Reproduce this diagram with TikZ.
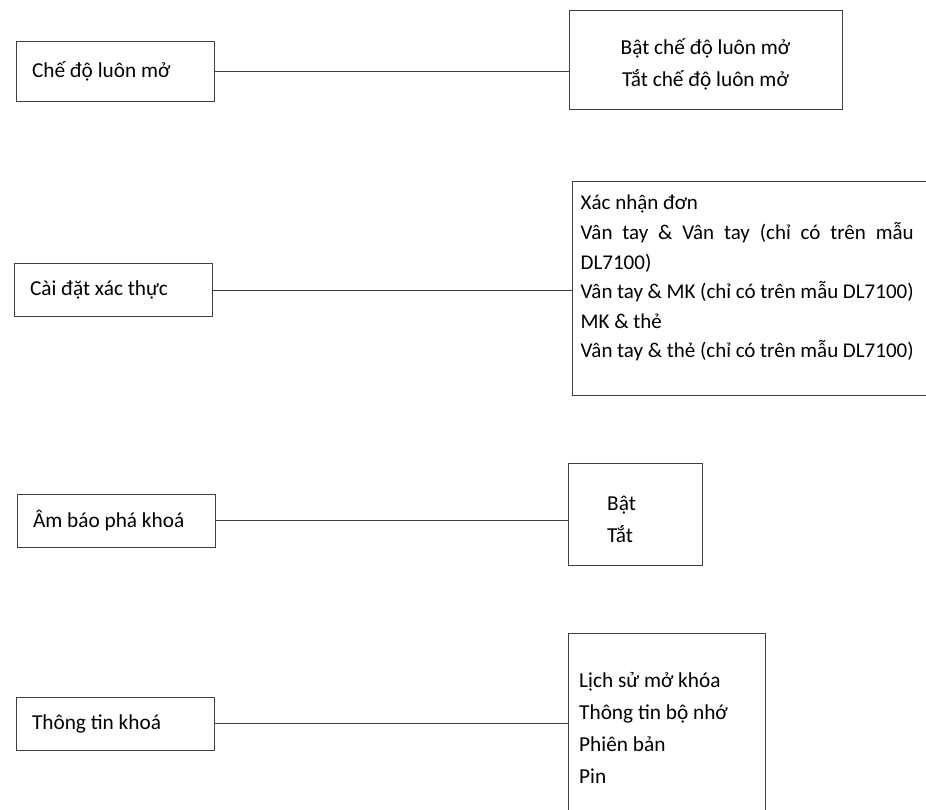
\documentclass[tikz,border=0pt]{standalone}
\usepackage{fontspec}
\setmainfont{Carlito}

\begin{document}
\begin{tikzpicture}[x=1pt,y=-1pt,
    menubox/.style={draw=black!75,line width=0.9pt,text width=166pt,inner xsep=16pt,align=flush left,minimum height=53pt,font=\fontsize{21.3}{25}\selectfont},
    optbox/.style={draw=black!75,line width=0.9pt},
    opttext/.style={inner sep=0pt,anchor=base west,align=flush left}]
            \path[use as bounding box,clip] (0,0) rectangle (926,810);

            \node (mode) at (115,71) [menubox,minimum height=60pt] {Chế độ luôn mở};
            \node (auth) at (113,290) [menubox] {Cài đặt xác thực};
            \node (alarm) at (116,520.5) [menubox] {Âm báo phá khoá};
            \node (info) at (115,723.5) [menubox] {Thông tin khoá};

            \node (modebox) at (705.5,59.5) [optbox,minimum width=273pt,minimum height=99pt] {};
            \node (authbox) at (772,288) [optbox,minimum width=400pt,minimum height=214pt] {};
            \node (alarmbox) at (635,514) [optbox,minimum width=134pt,minimum height=102pt] {};
            \node (infobox) at (666.5,758) [optbox,minimum width=197pt,minimum height=250pt] {};

            \node (modetext) at (705.5,55) [opttext,anchor=base,text width=273pt,align=flush center,font=\fontsize{21.3}{32}\selectfont] {Bật chế độ luôn mở\\Tắt chế độ luôn mở};
            \node (authtext) at (580.5,210) [opttext,text width=333pt,align=justify,font=\fontsize{21}{29.6}\selectfont] {Xác nhận đơn\\Vân tay \& Vân tay (chỉ có trên mẫu\linebreak DL7100)\\Vân tay \& MK (chỉ có trên mẫu DL7100)\\MK \& thẻ\\Vân tay \& thẻ (chỉ có trên mẫu DL7100)};
            \node (alarmtext) at (607,510) [opttext,text width=80pt,font=\fontsize{21.3}{32.7}\selectfont] {Bật\\Tắt};
            \node (infotext) at (579,687) [opttext,text width=180pt,font=\fontsize{21.3}{32.3}\selectfont] {Lịch sử mở khóa\\Thông tin bộ nhớ\\Phiên bản\\Pin};

            \draw[black!75,line width=0.9pt] (mode.east) -- (mode.east -| modebox.west) (auth.east) -- (auth.east -| authbox.west) (alarm.east) -- (alarm.east -| alarmbox.west) (info.east) -- (info.east -| infobox.west);

        \end{tikzpicture}
\end{document}
